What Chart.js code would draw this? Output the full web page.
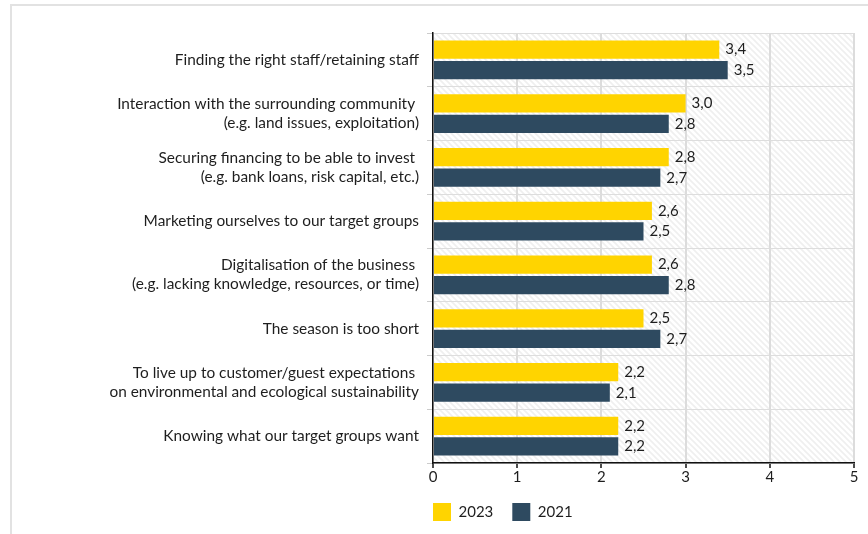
<!DOCTYPE html>
<html>
<head>
<meta charset="utf-8">
<script src="https://cdn.jsdelivr.net/npm/chart.js@4/dist/chart.umd.min.js"></script>
<style>
  html, body { margin: 0; padding: 0; background: #fff; overflow: hidden; }
  #wrap { position: relative; width: 868px; height: 534px; }
  #frame { position: absolute; left: 10px; top: 4px; width: 900px; height: 600px;
           border: 2px solid #e2e2e2; box-sizing: border-box; }
  canvas { position: absolute; left: 0; top: 0; }
</style>
</head>
<body>
<div id="wrap">
  <div id="frame"></div>
  <canvas id="chart" width="868" height="534"></canvas>
</div>
<script>
var categories = [
  ['Finding the right staff/retaining staff'],
  ['Interaction with the surrounding community ', '(e.g. land issues, exploitation)'],
  ['Securing financing to be able to invest ', '(e.g. bank loans, risk capital, etc.)'],
  ['Marketing ourselves to our target groups'],
  ['Digitalisation of the business ', '(e.g. lacking knowledge, resources, or time)'],
  ['The season is too short'],
  ['To live up to customer/guest expectations ', 'on environmental and ecological sustainability'],
  ['Knowing what our target groups want']
];
var values2023 = [3.4, 3.0, 2.8, 2.6, 2.6, 2.5, 2.2, 2.2];
var values2021 = [3.5, 2.8, 2.7, 2.5, 2.8, 2.7, 2.1, 2.2];
var xTicks = [0, 1, 2, 3, 4, 5];

var FONT = 'Lato, "Open Sans", sans-serif';
var TEXT = '#1e1e1e';
var LEGEND_GAP = 19;

// diagonal hatch behind the plot
function makeHatch() {
  var c = document.createElement('canvas');
  c.width = 6; c.height = 6;
  var g = c.getContext('2d');
  g.strokeStyle = '#efefef';
  g.lineWidth = 1.6;
  g.beginPath();
  g.moveTo(-1, -1); g.lineTo(7, 7);
  g.moveTo(-1, 5); g.lineTo(1, 7);
  g.moveTo(5, -1); g.lineTo(7, 1);
  g.stroke();
  return g.createPattern(c, 'repeat');
}

var hatchBg = {
  id: 'hatchBg',
  beforeDraw: function(chart) {
    var a = chart.chartArea, ctx = chart.ctx;
    ctx.save();
    ctx.fillStyle = makeHatch();
    ctx.fillRect(a.left, a.top, a.right - a.left, a.bottom - a.top);
    ctx.restore();
  }
};

// legend starts flush with the plot's left edge, a bit closer to the axis
var legendShift = {
  id: 'legendShift',
  afterLayout: function(chart) {
    var lg = chart.legend;
    lg.left -= LEGEND_GAP;
    lg.right -= LEGEND_GAP;
    lg.top -= 2;
    lg.bottom -= 2;
  }
};

// value labels after each bar, decimal comma
var valueLabels = {
  id: 'valueLabels',
  afterDatasetsDraw: function(chart) {
    var ctx = chart.ctx;
    ctx.save();
    ctx.font = '15px ' + FONT;
    ctx.fillStyle = TEXT;
    ctx.textAlign = 'left';
    ctx.textBaseline = 'middle';
    chart.data.datasets.forEach(function(ds, i) {
      chart.getDatasetMeta(i).data.forEach(function(bar, j) {
        var txt = ds.data[j].toFixed(1).replace('.', ',');
        ctx.fillText(txt, bar.x + 6, bar.y);
      });
    });
    ctx.restore();
  }
};

new Chart(document.getElementById('chart'), {
  type: 'bar',
  data: {
    labels: categories,
    datasets: [
      { label: '2023', data: values2023, backgroundColor: '#ffd400' },
      { label: '2021', data: values2021, backgroundColor: '#2e4a60' }
    ]
  },
  options: {
    indexAxis: 'y',
    responsive: false,
    animation: false,
    categoryPercentage: 0.77,
    barPercentage: 0.88,
    layout: { padding: { top: 33, right: 14, left: 0, bottom: 1 } },
    plugins: {
      legend: {
        position: 'bottom',
        align: 'start',
        fullSize: false,
        labels: {
          boxWidth: 18, boxHeight: 18, padding: LEGEND_GAP,
          color: TEXT, font: { family: FONT, size: 15 }
        }
      },
      tooltip: { enabled: false }
    },
    scales: {
      x: {
        min: 0, max: 5,
        afterBuildTicks: function(s) { s.ticks = xTicks.map(function(v) { return { value: v }; }); },
        grid: { color: '#dcdcdc', lineWidth: 2, tickColor: '#111', tickLength: 5, tickWidth: 1.5 },
        border: { color: '#111', width: 1.5 },
        ticks: { color: TEXT, font: { family: FONT, size: 15 }, padding: 0 }
      },
      y: {
        afterFit: function(s) { s.width = 433; },
        grid: { color: '#dddddd', lineWidth: 1, tickColor: '#cccccc', tickLength: 6 },
        border: { color: '#111', width: 1.5 },
        ticks: { color: TEXT, font: { family: FONT, size: 15.4, lineHeight: 1.23 }, padding: 8 }
      }
    }
  },
  plugins: [hatchBg, legendShift, valueLabels]
});
</script>
</body>
</html>
